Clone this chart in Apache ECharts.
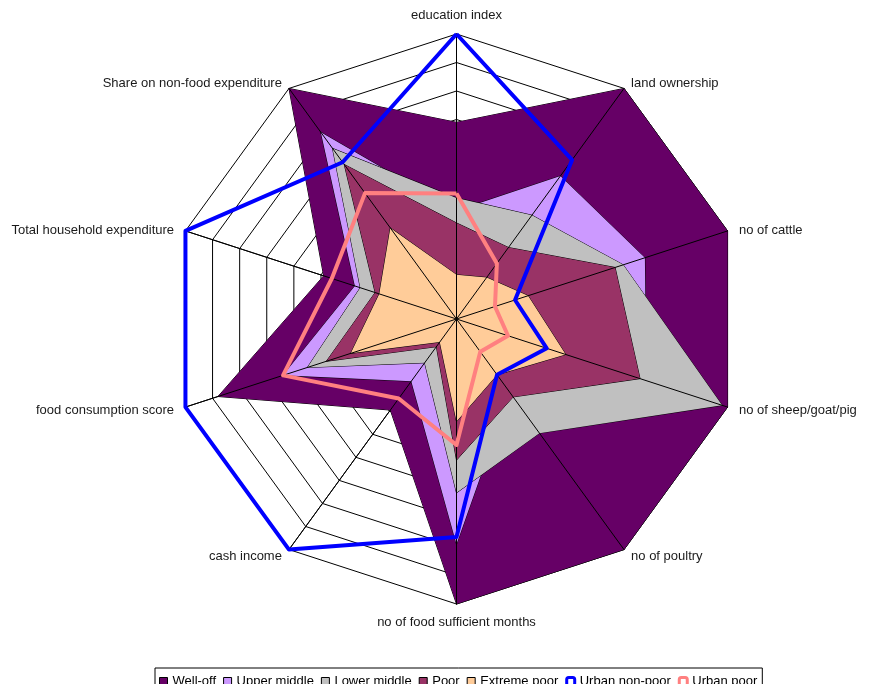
<!DOCTYPE html>
<html><head><meta charset="utf-8">
<script src="https://cdn.jsdelivr.net/npm/echarts@6/dist/echarts.min.js"></script>
<style>html,body{margin:0;padding:0;background:#fff}#c{width:872px;height:684px}</style>
</head><body><div id="c"></div>
<script>
// Indicators listed clockwise from the top
const indicatorNames = ["education index","land ownership","no of cattle","no of sheep/goat/pig","no of poultry","no of food sufficient months","cash income","food consumption score","Total household expenditure","Share on non-food expenditure"];
const axisMax = 10;
const seriesNames = ["Well-off","Upper middle","Lower middle","Poor","Extreme poor","Urban non-poor","Urban poor"];
const wellOff      = [6.9, 10, 10, 10, 10, 10, 3.95, 8.8, 4.9, 10];
const upperMiddle  = [3.8, 6.2, 6.95, 7.0, 3.2, 7.9, 2.7, 6.4, 3.75, 8.1];
const lowerMiddle  = [4.25, 4.5, 6.15, 9.8, 4.95, 6.1, 1.9, 5.5, 3.55, 7.4];
const poor         = [3.37, 3.1, 5.85, 6.77, 3.38, 4.95, 1.2, 4.8, 3.0, 6.7];
const extremePoor  = [1.55, 1.8, 2.64, 4.03, 2.42, 3.6, 1.0, 3.9, 2.85, 3.95];
const urbanNonPoor = [10, 6.9, 2.16, 3.33, 2.42, 7.65, 10, 10, 10, 6.8];
const urbanPoor    = [4.4, 2.41, 1.42, 1.9, 1.42, 4.42, 3.45, 6.4, 4.6, 5.46];

const fillColors = ["#660066","#CC99FF","#C0C0C0","#993366","#FFCC99"];
const lineColors = ["#0000FF","#FF8080"];

// ECharts radar runs counter-clockwise; reorder to keep the clockwise layout
const order = [0,9,8,7,6,5,4,3,2,1];
const ccw = a => order.map(i => a[i]);

const FONT = "Liberation Sans";
const indicators = ccw(indicatorNames).map(n => ({name: n, min: 0, max: axisMax}));
const radarBase = {center: [456.5, 319], radius: 285, startAngle: 90, splitNumber: 10, shape: 'polygon'};

// label nudges: which rich style each indicator label uses
const labelStyleOf = {
  "land ownership": "dn5", "Share on non-food expenditure": "dn5",
  "no of cattle": "dn3", "Total household expenditure": "dn3",
  "no of poultry": "up3", "cash income": "up3"
};

const fills = [wellOff, upperMiddle, lowerMiddle, poor, extremePoor];
const lines = [urbanNonPoor, urbanPoor];

const series = [];
fills.forEach((d, i) => {
  series.push({
    type: 'radar', name: seriesNames[i], radarIndex: 0, z: 2, symbol: 'none',
    lineStyle: {color: '#000', width: 1},
    itemStyle: {color: fillColors[i]},
    areaStyle: {color: fillColors[i], opacity: 1},
    data: [{value: ccw(d), name: seriesNames[i]}]
  });
});
lines.forEach((d, i) => {
  series.push({
    type: 'radar', name: seriesNames[5 + i], radarIndex: 0, z: 4, symbol: 'none',
    lineStyle: {color: lineColors[i], width: 4},
    itemStyle: {color: lineColors[i]},
    data: [{value: ccw(d), name: seriesNames[5 + i]}]
  });
});

const legendData = seriesNames.map((n, i) => i < 5
  ? {name: n, icon: 'rect', itemStyle: {color: fillColors[i], borderColor: '#000', borderWidth: 1}}
  : {name: n, icon: 'roundRect', itemStyle: {color: '#fff', borderColor: lineColors[i - 5], borderWidth: 3}});

const txt = {color: '#1a1a1a', fontSize: 13, fontFamily: FONT};
const chart = echarts.init(document.getElementById('c'), null, {renderer: 'canvas'});
chart.setOption({
  animation: false,
  backgroundColor: '#fff',
  textStyle: {fontFamily: FONT},
  legend: {
    data: legendData, left: 155, top: 668, orient: 'horizontal',
    itemWidth: 8, itemHeight: 8, itemGap: 7,
    padding: [7, 5, 3, 4], borderColor: '#000', borderWidth: 1,
    textStyle: {fontFamily: FONT, fontSize: 13, color: '#000'}
  },
  radar: [
    Object.assign({}, radarBase, {
      z: 0, nameGap: 12, indicator: indicators,
      axisName: Object.assign({}, txt, {
        formatter: n => '{' + (labelStyleOf[n] || 'n') + '|' + n + '}',
        rich: {
          n: Object.assign({}, txt),
          dn5: Object.assign({}, txt, {padding: [10, 0, 0, 0]}),
          dn3: Object.assign({}, txt, {padding: [6, 0, 0, 0]}),
          up3: Object.assign({}, txt, {padding: [0, 0, 6, 0]})
        }
      }),
      splitLine: {lineStyle: {color: '#000', width: 1}},
      splitArea: {show: false},
      axisLine: {lineStyle: {color: '#000', width: 1}},
      axisTick: {show: false}, axisLabel: {show: false}
    }),
    Object.assign({}, radarBase, {
      z: 3, indicator: indicators,
      axisName: {show: false},
      splitLine: {show: false},
      splitArea: {show: false},
      axisLine: {lineStyle: {color: '#000', width: 1}},
      axisTick: {show: false}, axisLabel: {show: false}
    })
  ],
  series: series
});
</script>
</body></html>
